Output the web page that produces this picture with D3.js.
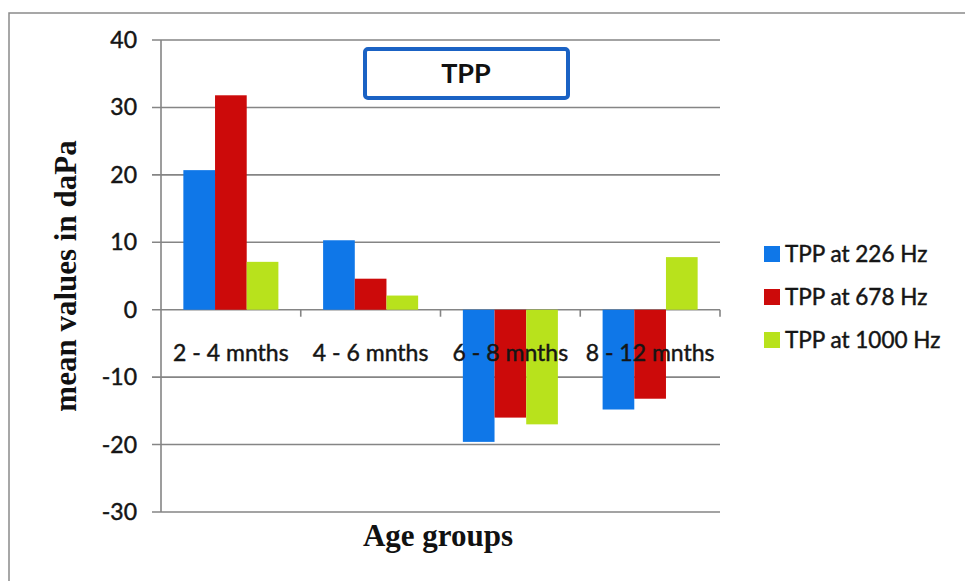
<!DOCTYPE html>
<html>
<head>
<meta charset="utf-8">
<script src="https://cdn.jsdelivr.net/npm/d3@7"></script>
<style>
  html, body { margin: 0; padding: 0; background: #fff; }
  svg { display: block; }
</style>
</head>
<body>
<svg id="chart" width="965" height="581"></svg>
<script>
const categories = ["2 - 4 mnths", "4 - 6 mnths", "6 - 8 mnths", "8 - 12 mnths"];
const seriesNames = ["TPP at 226 Hz", "TPP at 678 Hz", "TPP at 1000 Hz"];
const tpp226 = [20.7, 10.3, -19.6, -14.8];
const tpp678 = [31.8, 4.6, -16.0, -13.2];
const tpp1000 = [7.1, 2.1, -17.0, 7.8];
const yTicks = [40, 30, 20, 10, 0, -10, -20, -30];
const colors = ["#0f77e8", "#cc0a0a", "#b8e21c"];
const chartTitle = "TPP";
const xTitle = "Age groups";
const yTitle = "mean values in daPa";

(function () {
const series = [tpp226, tpp678, tpp1000];
const svg = d3.select("#chart");
const textColor = "#151515";

// outer frame
svg.append("path").attr("d", "M9,581 L9,13 L965,13")
  .attr("fill", "none").attr("stroke", "#8a8a8a").attr("stroke-width", 1.5);

const pLeft = 161, pRight = 720, pTop = 40, pBottom = 512;
const y = d3.scaleLinear().domain([-30, 40]).range([pBottom, pTop]);
const x0 = d3.scaleBand().domain(categories).range([pLeft, pRight]).paddingInner(0.32).paddingOuter(0.16);
const x1 = d3.scaleBand().domain(d3.range(series.length)).range([0, x0.bandwidth()]);

// gridlines
const gridColor = "#858585";
svg.append("g").selectAll("line").data(yTicks).join("line")
  .attr("x1", pLeft - 9).attr("x2", pRight)
  .attr("y1", d => y(d)).attr("y2", d => y(d))
  .attr("stroke", gridColor).attr("stroke-width", 1.6);

// y axis line
svg.append("line").attr("x1", pLeft).attr("x2", pLeft).attr("y1", y(40)).attr("y2", y(-30))
  .attr("stroke", gridColor).attr("stroke-width", 1.6);

// bars
const groups = svg.append("g").selectAll("g").data(categories).join("g")
  .attr("transform", d => `translate(${x0(d)},0)`);
groups.selectAll("rect").data((c, ci) => series.map((s, si) => ({ si, v: s[ci] }))).join("rect")
  .attr("x", d => x1(d.si))
  .attr("width", x1.bandwidth())
  .attr("y", d => y(Math.max(0, d.v)))
  .attr("height", d => Math.abs(y(d.v) - y(0)))
  .attr("fill", d => colors[d.si]);

// category ticks on zero line
const bandStep = (pRight - pLeft) / categories.length;
svg.append("g").selectAll("line").data(d3.range(1, categories.length + 1)).join("line")
  .attr("x1", d => pLeft + d * bandStep).attr("x2", d => pLeft + d * bandStep)
  .attr("y1", y(0)).attr("y2", y(0) + 7)
  .attr("stroke", gridColor).attr("stroke-width", 1.6);

function sansText(sel, size) {
  sel.attr("font-family", "Lato, sans-serif").attr("font-size", size)
    .attr("fill", textColor).attr("stroke", textColor).attr("stroke-width", 0.45);
}

// y tick labels
svg.append("g").selectAll("text").data(yTicks).join("text")
  .attr("x", 137).attr("y", d => y(d))
  .attr("dy", "0.35em")
  .attr("text-anchor", "end")
  .call(sansText, 23)
  .text(d => d);

// category labels
svg.append("g").selectAll("text").data(categories).join("text")
  .attr("x", d => x0(d) + x0.bandwidth() / 2)
  .attr("y", 353).attr("dy", "0.35em")
  .attr("text-anchor", "middle")
  .call(sansText, 23)
  .text(d => d);

// title box
svg.append("rect").attr("x", 365).attr("y", 49).attr("width", 203).attr("height", 49)
  .attr("rx", 3).attr("fill", "#fff").attr("stroke", "#1a62c4").attr("stroke-width", 4);
svg.append("text").attr("x", 466).attr("y", 74).attr("dy", "0.35em")
  .attr("text-anchor", "middle").attr("font-family", "Lato, sans-serif")
  .attr("font-weight", "bold").attr("font-size", 27).attr("fill", "#111")
  .text(chartTitle);

// axis titles
svg.append("text").attr("x", 438).attr("y", 546)
  .attr("text-anchor", "middle").attr("font-family", "'Liberation Serif', 'Times New Roman', serif")
  .attr("font-weight", "bold").attr("font-size", 31).attr("fill", "#111")
  .text(xTitle);
svg.append("text").attr("transform", "translate(76,276) rotate(-90)")
  .attr("text-anchor", "middle").attr("font-family", "'Liberation Serif', 'Times New Roman', serif")
  .attr("font-weight", "bold").attr("font-size", 31).attr("fill", "#111")
  .text(yTitle);

// legend
const legend = svg.append("g").selectAll("g").data(seriesNames).join("g")
  .attr("transform", (d, i) => `translate(764,${254 + i * 43})`);
legend.append("rect").attr("x", 0).attr("y", -8).attr("width", 16).attr("height", 16)
  .attr("fill", (d, i) => colors[i]);
legend.append("text").attr("x", 21).attr("y", 0).attr("dy", "0.35em")
  .call(sansText, 22.5)
  .text(d => d);
})();
</script>
</body>
</html>
